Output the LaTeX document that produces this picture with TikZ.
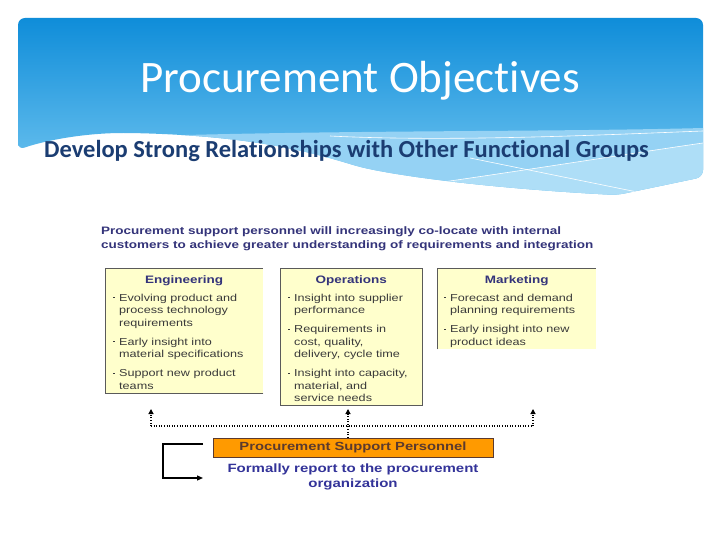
\documentclass[tikz,border=0pt]{standalone}
\usepackage{fontspec}
\setmainfont{Liberation Sans}
\newfontfamily\slidefont[Ligatures=NoCommon]{Carlito}
\newfontfamily\chartfont[FakeStretch=1.25]{Liberation Sans}
\usepackage{xcolor}
\usetikzlibrary{arrows.meta,positioning,calc}

\definecolor{hdrtop}{HTML}{0F8DD9}
\definecolor{hdrbot}{HTML}{78C9F2}
\definecolor{hdrband}{HTML}{95D2F4}
\definecolor{hdrpale}{HTML}{AEDEF7}
\definecolor{subblue}{HTML}{1B3D72}
\definecolor{navy}{HTML}{34347A}
\definecolor{boxfill}{HTML}{FFFFCC}
\definecolor{boxline}{HTML}{5A5A5A}
\definecolor{bodygray}{HTML}{3A3A3A}
\definecolor{pspfill}{HTML}{FF9A00}
\definecolor{psptext}{HTML}{5B3A2E}
\definecolor{reportblue}{HTML}{333399}

\newcommand{\bul}{\makebox[6pt][l]{\rule[2.6pt]{1.8pt}{1.3pt}}}

\begin{document}
\begin{tikzpicture}[x=1pt, y=-1pt,
    panel/.style={rectangle, fill=boxfill, inner sep=0pt, anchor=north west},
    paneltitle/.style={font=\chartfont\fontsize{10.8}{13}\selectfont\bfseries, text=navy, inner sep=0pt, anchor=base},
    itemtext/.style={font=\chartfont\fontsize{10.1}{12.5}\selectfont, text=bodygray, inner sep=0pt, anchor=base west},
    paneledge/.style={draw=boxline, line width=0.8pt},
    linkdot/.style={line width=1.1pt, dash pattern=on 0.9pt off 1.7pt},
    dottip/.style={-{Triangle[length=5pt, width=5pt]}},
    retline/.style={line width=1.3pt, -{Triangle[length=6pt, width=5pt]}}]

    \useasboundingbox (0,0) rectangle (720,540);
    \fill[white] (0,0) rectangle (720,540);

    % Header band
    \begin{scope}
        \clip[rounded corners=7pt] (18,150) -- (18,18) -- (703,18) -- (703,177) -- (617,195)
            .. controls (520,190) and (420,180) .. (360,167)
            .. controls (320,155) and (260,136) .. (130,133)
            .. controls (80,133) and (40,142) .. (18,150) -- cycle;
        \shade[top color=hdrtop, bottom color=hdrbot] (18,18) rectangle (703,197);
        \fill[hdrband] (150,136) .. controls (350,130) and (550,132) .. (703,128) -- (703,200) -- (150,200) -- cycle;
        \fill[hdrpale] (443,182) .. controls (560,165) and (640,152) .. (703,143) -- (703,200) -- (443,200) -- cycle;
        \draw[white, line width=0.6pt] (330,136) .. controls (450,142) and (600,135) .. (703,131);
        \draw[white, line width=0.6pt] (443,182) .. controls (560,165) and (640,152) .. (703,143);
        \draw[white, line width=0.6pt] (470,158) -- (647,194);
    \end{scope}

    \node[font=\slidefont\fontsize{45}{50}\selectfont, text=white, anchor=base] (title) at (360,93) {Procurement Objectives};
    \node[font=\slidefont\fontsize{24.5}{28}\selectfont\bfseries, text=subblue, anchor=base west, inner sep=0pt] (subtitle) at (44,158) {Develop Strong Relationships with Other Functional Groups};

    % Intro text
    \node[font=\chartfont\fontsize{10.8}{14}\selectfont\bfseries, text=navy, inner sep=0pt, anchor=base west] (intro) at (101,234)
        {\begin{tabular}[t]{@{}l@{}}Procurement support personnel will increasingly co-locate with internal\\customers to achieve greater understanding of requirements and integration\end{tabular}};

    % Engineering
    \node[panel, minimum width=158pt, minimum height=125pt] (eng) at (105,268) {};
    \draw[paneledge] (eng.south east) -- (eng.south west) -- (eng.north west) -- (eng.north east);
    \node[paneltitle] (engtitle) at ([yshift=-15pt]eng.north) {Engineering};
    \node[itemtext] (englist) at ([xshift=8pt, yshift=-33pt]eng.north west)
        {\begin{tabular}[t]{@{}l@{}l@{}}
        \bul & Evolving product and\\ & process technology\\ & requirements\\[6.5pt]
        \bul & Early insight into\\ & material specifications\\[6.5pt]
        \bul & Support new product\\ & teams
        \end{tabular}};

    % Operations
    \node[panel, minimum width=142pt, minimum height=137pt] (ops) at (280,268) {};
    \draw[paneledge] (ops.south west) rectangle (ops.north east);
    \node[paneltitle] (opstitle) at ([yshift=-15pt]ops.north) {Operations};
    \node[itemtext] (opslist) at ([xshift=8pt, yshift=-33pt]ops.north west)
        {\begin{tabular}[t]{@{}l@{}l@{}}
        \bul & Insight into supplier\\ & performance\\[6.5pt]
        \bul & Requirements in\\ & cost, quality,\\ & delivery, cycle time\\[6.5pt]
        \bul & Insight into capacity,\\ & material, and\\ & service needs
        \end{tabular}};

    % Marketing
    \node[panel, minimum width=159pt, minimum height=81pt] (mkt) at (437,268) {};
    \draw[paneledge] (mkt.south west) -- (mkt.north west) -- (mkt.north east);
    \node[paneltitle] (mkttitle) at ([yshift=-15pt]mkt.north) {Marketing};
    \node[itemtext] (mktlist) at ([xshift=7pt, yshift=-33pt]mkt.north west)
        {\begin{tabular}[t]{@{}l@{}l@{}}
        \bul & Forecast and demand\\ & planning requirements\\[6.5pt]
        \bul & Early insight into new\\ & product ideas
        \end{tabular}};

    % Procurement support personnel
    \node[rectangle, draw=psptext, line width=0.7pt, fill=pspfill, minimum width=280pt, minimum height=19pt, inner sep=0pt,
        font=\chartfont\fontsize{11.8}{14}\selectfont\bfseries, text=psptext] (psp) at (353,447.5) {Procurement Support Personnel};
    \node[below=6pt of psp, inner sep=0pt, align=center, text=reportblue,
        font=\chartfont\fontsize{12}{15}\selectfont\bfseries] (report) {Formally report to the procurement\\organization};

    % Dotted links
    \coordinate (engin) at (151,409);
    \coordinate (opsin) at (348,409);
    \coordinate (mktin) at (533,409);
    \coordinate (busl) at (151,426);
    \coordinate (busr) at (533,426);
    \draw[linkdot] (busl) -- (busr);
    \draw[linkdot, dottip] (busl) -- (engin);
    \draw[linkdot, dottip] (busr) -- (mktin);
    \draw[linkdot, dottip] (psp.north -| opsin) -- (opsin);

    % Reporting loop
    \coordinate (rettop) at (203,444);
    \coordinate (retbot) at (203,478);
    \draw[retline] (rettop) -- ++(-40,0) |- (retbot);

\end{tikzpicture}
\end{document}
